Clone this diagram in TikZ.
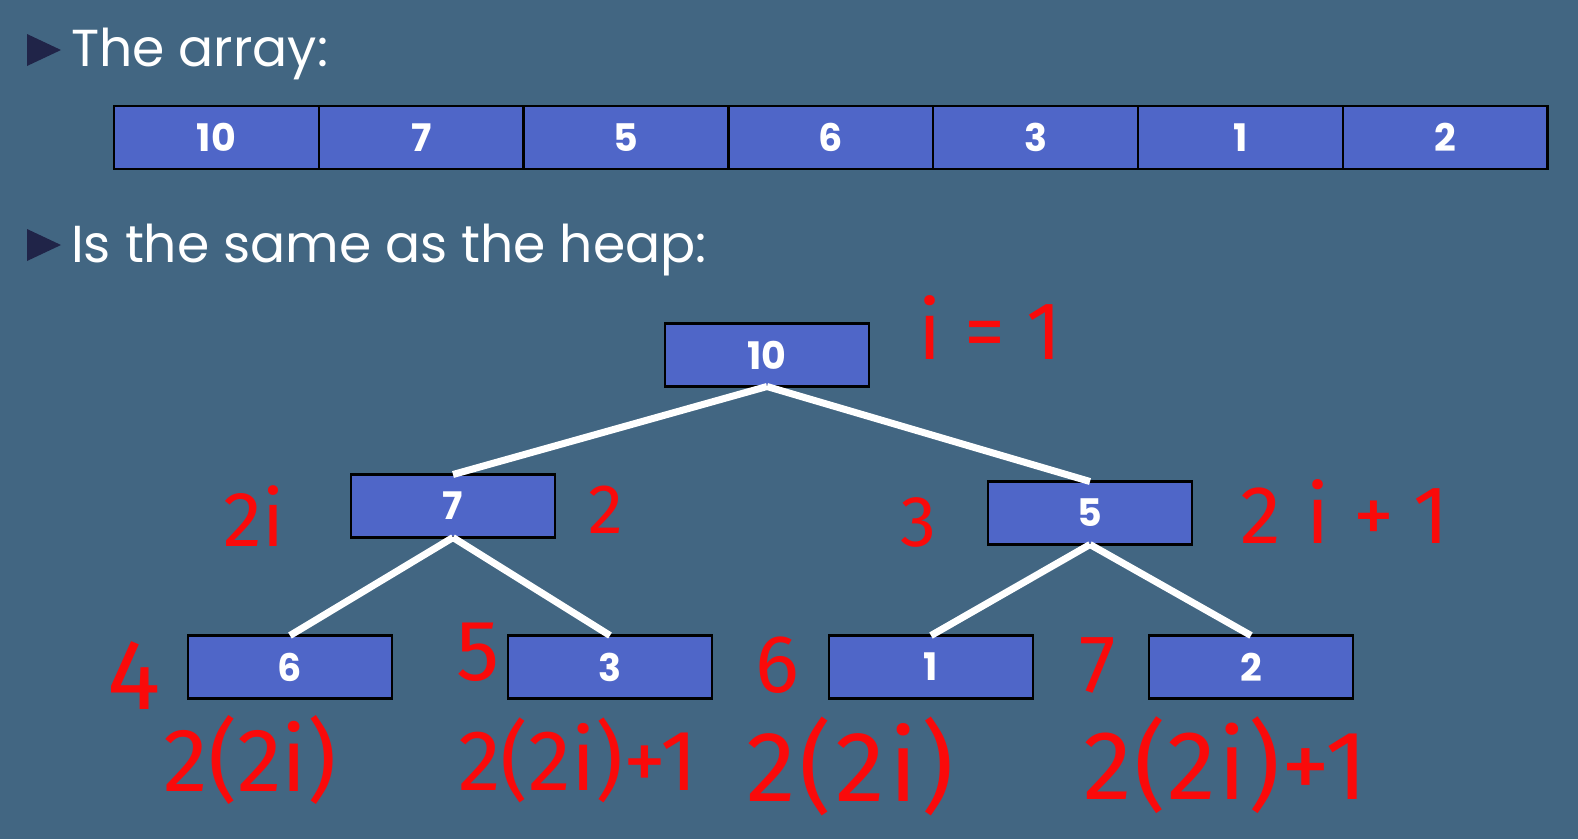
\documentclass[tikz,border=0pt]{standalone}
\usepackage{fontspec}
\setmainfont{Poppins}
\newfontfamily\handfont{Fira Sans}
\usepackage{xcolor}
\usetikzlibrary{positioning}

\definecolor{boardblue}{RGB}{66,102,130}
\definecolor{cellblue}{RGB}{79,102,200}
\definecolor{bulletnavy}{RGB}{32,36,72}
\definecolor{inkred}{RGB}{250,10,10}

\begin{document}
\begin{tikzpicture}[
  x=1pt, y=-1pt,
  cell/.style={draw=black, line width=2.5pt, fill=cellblue, minimum width=204.8pt, minimum height=63pt, inner sep=0pt, outer sep=0pt, text=white, font=\fontsize{38}{42}\selectfont\bfseries},
  heapnode/.style={cell, minimum width=204pt},
  edge/.style={draw=white, line width=7pt},
  heading/.style={anchor=base west, text=white, inner sep=0pt, font=\fontsize{52}{58}\selectfont},
  bullet/.style={fill=bulletnavy},
  ink/.style 2 args={text=inkred, inner sep=0pt, font=\handfont\addfontfeature{LetterSpace=#2}\fontsize{#1}{#1}\selectfont}
]
  % Board
  \fill[boardblue] (0,0) rectangle (1578,839);

  % Headings
  \fill[bullet] (27,34) -- (61,50) -- (27,66) -- cycle;
  \node[heading] (t1) at (71,66) {The array:};
  \fill[bullet] (27,229) -- (61,245) -- (27,261) -- cycle;
  \node[heading] (t2) at (71,262) {Is the same as the heap:};

  % Array
  \node[cell] (a1) at (216.4,137.5) {10};
  \node[cell, right=0pt of a1] (a2) {7};
  \node[cell, right=0pt of a2] (a3) {5};
  \node[cell, right=0pt of a3] (a4) {6};
  \node[cell, right=0pt of a4] (a5) {3};
  \node[cell, right=0pt of a5] (a6) {1};
  \node[cell, right=0pt of a6] (a7) {2};

  % Heap
  \node[heapnode] (h1) at (767,355) {10};
  \node[heapnode] (h2) at (453,506) {7};
  \node[heapnode] (h3) at (1090,513) {5};
  \node[heapnode] (h4) at (290,667) {6};
  \node[heapnode] (h5) at (610,667) {3};
  \node[heapnode] (h6) at (931,667) {1};
  \node[heapnode] (h7) at (1251,667) {2};

  \draw[edge] (h1.south) -- (h2.north);
  \draw[edge] (h1.south) -- (h3.north);
  \draw[edge] (h2.south) -- (h4.north);
  \draw[edge] (h2.south) -- (h5.north);
  \draw[edge] (h3.south) -- (h6.north);
  \draw[edge] (h3.south) -- (h7.north);

  % Index notes
  \node[ink={82}{28}] (n1) at (990,328) {i=1};
  \node[ink={78}{0}] (n2a) at (254,516) {2i};
  \node[ink={70}{0}] (n2) at (606,510) {2};
  \node[ink={72}{0}] (n3) at (918,522) {3};
  \node[ink={82}{30}] (n3a) at (1345,512) {2i+1};
  \node[ink={100}{0}] (n4) at (134,676) {4};
  \node[ink={86}{0}] (n5) at (478,652) {5};
  \node[ink={82}{0}] (n6) at (777,665) {6};
  \node[ink={82}{0}] (n7) at (1098,665) {7};
  \node[ink={90}{0}] (n4a) at (250,760) {2(2i)};
  \node[ink={86}{0}] (n5a) at (578,760) {2(2i)+1};
  \node[ink={100}{4}] (n6a) at (850,766) {2(2i)};
  \node[ink={98}{2}] (n7a) at (1226,765) {2(2i)+1};
\end{tikzpicture}
\end{document}
